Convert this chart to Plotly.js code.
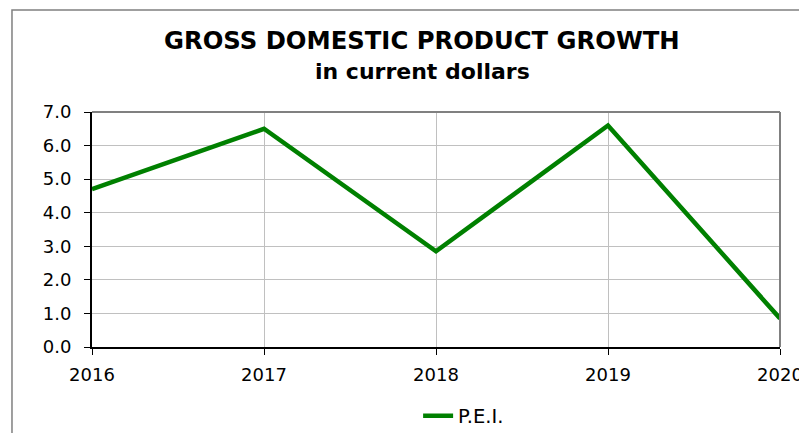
<!DOCTYPE html>
<html>
<head>
<meta charset="utf-8">
<script src="https://cdn.plot.ly/plotly-3.0.1.min.js"></script>
<style>
html,body{margin:0;padding:0;background:#fff;}
#chart{width:799px;height:433px;}
</style>
</head>
<body>
<div id="chart"></div>
<script>
const years = [2016, 2017, 2018, 2019, 2020];
const growth = [4.7, 6.5, 2.85, 6.6, 0.85];
const seriesName = 'P.E.I.';
const yTicks = [0, 1, 2, 3, 4, 5, 6, 7];
const titleText = 'GROSS DOMESTIC PRODUCT GROWTH';
const subtitleText = 'in current dollars';

const FONT = 'DejaVu Sans, Liberation Sans, Arial, sans-serif';

const trace = {
  x: years,
  y: growth,
  type: 'scatter',
  mode: 'lines',
  name: seriesName,
  line: {color: '#008000', width: 4.5},
  cliponaxis: false
};

const layout = {
  width: 799,
  height: 433,
  paper_bgcolor: '#ffffff',
  plot_bgcolor: '#ffffff',
  margin: {l: 92, r: 19, t: 112, b: 86, autoexpand: false},
  font: {family: FONT, color: '#000000', size: 18},
  showlegend: true,
  legend: {
    orientation: 'h',
    xref: 'paper', yref: 'container',
    x: 0.474, xanchor: 'left',
    y: (433 - 416) / 433, yanchor: 'middle',
    font: {family: FONT, size: 19.5, color: '#000'},
    bgcolor: 'rgba(0,0,0,0)'
  },
  xaxis: {
    range: [2016, 2020],
    tickvals: years,
    ticktext: years.map(String),
    showgrid: true,
    gridcolor: '#c0c0c0',
    gridwidth: 1,
    showline: true,
    linecolor: '#000000',
    linewidth: 2,
    ticks: 'outside',
    ticklen: 6,
    tickcolor: '#000000',
    tickwidth: 1,
    ticklabelstandoff: 4,
    ticklabeloverflow: 'allow',
    tickfont: {family: FONT, size: 18, color: '#000'},
    zeroline: false,
    fixedrange: true
  },
  yaxis: {
    range: [0, 7],
    tickvals: yTicks,
    tickformat: '.1f',
    showgrid: true,
    gridcolor: '#c0c0c0',
    gridwidth: 1,
    showline: true,
    linecolor: '#000000',
    linewidth: 2,
    ticks: 'outside',
    ticklen: 6,
    tickcolor: '#000000',
    tickwidth: 1,
    ticklabelstandoff: 9,
    tickfont: {family: FONT, size: 18, color: '#000'},
    zeroline: false,
    fixedrange: true
  },
  shapes: [
    {type: 'rect', xref: 'paper', yref: 'paper', x0: -0.1163, x1: 1.5, y0: -1, y1: 1.434,
     line: {color: '#808080', width: 1.5}, layer: 'below'},
    {type: 'line', xref: 'paper', yref: 'paper', x0: 0, x1: 1, y0: 1, y1: 1,
     line: {color: '#808080', width: 2}},
    {type: 'line', xref: 'paper', yref: 'paper', x0: 1, x1: 1, y0: 0, y1: 1,
     line: {color: '#808080', width: 2}}
  ],
  annotations: [
    {xref: 'paper', yref: 'paper', x: 0.48, y: (347 - 41) / 235, xanchor: 'center', yanchor: 'middle',
     text: '<b>' + titleText + '</b>', showarrow: false,
     font: {family: FONT, size: 24.3, color: '#000'}},
    {xref: 'paper', yref: 'paper', x: 0.48, y: (347 - 71) / 235, xanchor: 'center', yanchor: 'middle',
     text: '<b>' + subtitleText + '</b>', showarrow: false,
     font: {family: FONT, size: 22, color: '#000'}}
  ]
};

Plotly.newPlot('chart', [trace], layout, {displayModeBar: false, staticPlot: true});
</script>
</body>
</html>
